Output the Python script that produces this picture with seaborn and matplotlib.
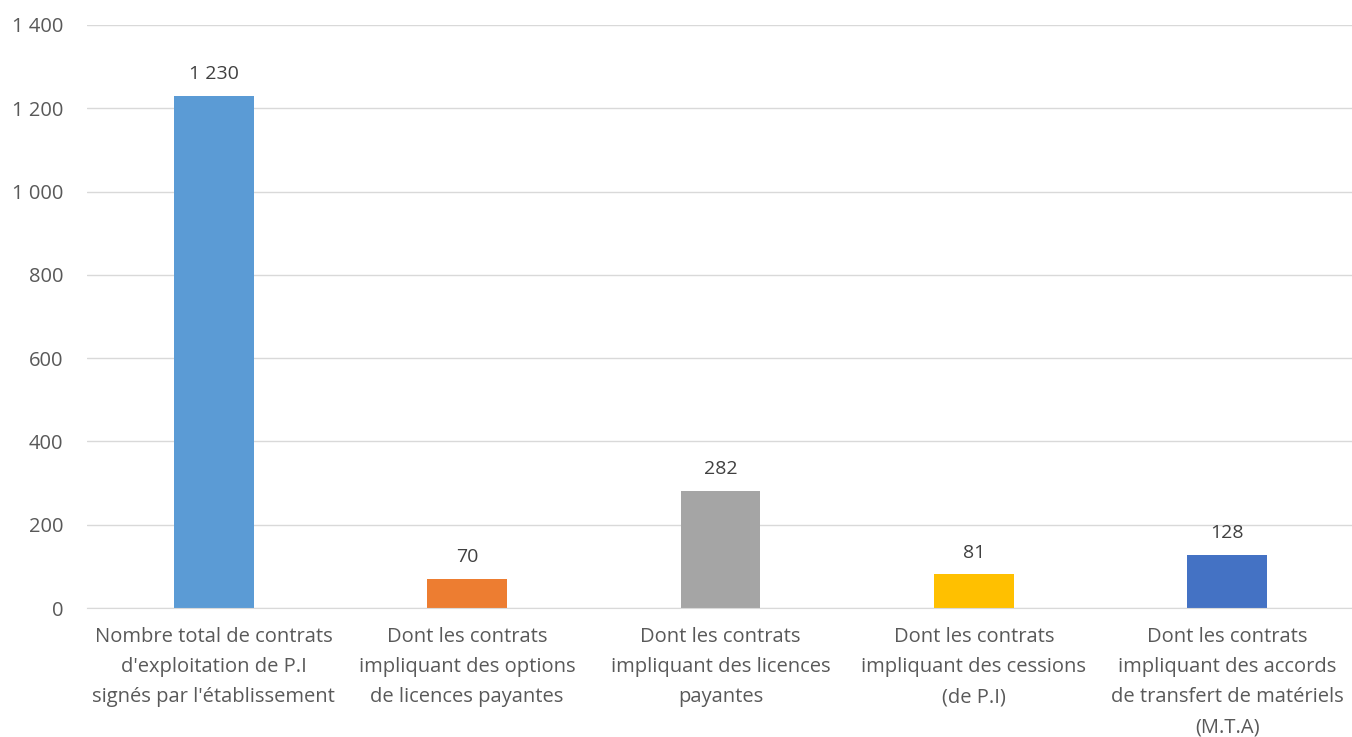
import matplotlib
matplotlib.use("Agg")
import matplotlib.pyplot as plt
import seaborn as sns
import pandas as pd
from matplotlib.ticker import FuncFormatter, MultipleLocator

# data
categories = [
    "Nombre total de contrats\nd'exploitation de P.I\nsignés par l'établissement",
    "Dont les contrats\nimpliquant des options\nde licences payantes",
    "Dont les contrats\nimpliquant des licences\npayantes",
    "Dont les contrats\nimpliquant des cessions\n(de P.I)",
    "Dont les contrats\nimpliquant des accords\nde transfert de matériels\n(M.T.A)",
]
values = [1230, 70, 282, 81, 128]
colors = ["#5B9BD5", "#ED7D31", "#A5A5A5", "#FFC000", "#4472C4"]


def fmt(v, pos=None):
    return f"{int(v):,}".replace(",", " ")


sns.set_style("white")
plt.rcParams['font.family'] = ['Open Sans', 'DejaVu Sans']
text_col = "#595959"

df = pd.DataFrame({"cat": categories, "val": values})

fig = plt.figure(figsize=(13.52, 7.37), dpi=100)
ax = fig.add_axes([87 / 1352, 1 - 608 / 737, (1354 - 87) / 1352, (608 - 25) / 737])

sns.barplot(data=df, x="cat", y="val", hue="cat", palette=colors,
            width=0.315, legend=False, ax=ax, saturation=1, linewidth=0)

for i, v in enumerate(values):
    ax.text(i, v + 30, fmt(v), ha="center", va="bottom", fontsize=14, color="#404040")

ax.set_ylim(0, 1400)
ax.set_xlim(-0.5, 4.5)
ax.yaxis.set_major_locator(MultipleLocator(200))
ax.yaxis.set_major_formatter(FuncFormatter(fmt))
ax.grid(axis="y", color="#D9D9D9", linewidth=1)
ax.set_axisbelow(True)
for s in ["top", "right", "left"]:
    ax.spines[s].set_visible(False)
ax.spines["bottom"].set_color("#D9D9D9")
ax.tick_params(axis="both", length=0, labelsize=14.5, colors=text_col)
ax.tick_params(axis="y", pad=17)
ax.tick_params(axis="x", pad=14)
for lbl in ax.get_xticklabels():
    lbl.set_linespacing(1.66)
ax.set_xlabel("")
ax.set_ylabel("")

fig.savefig("out.png", dpi=100)
